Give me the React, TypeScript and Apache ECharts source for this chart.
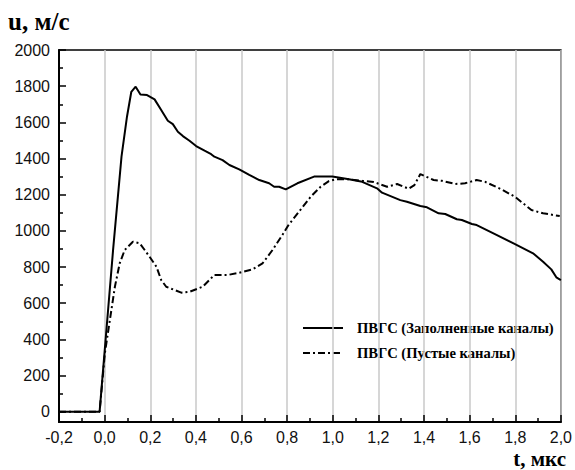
import React, { useEffect, useRef } from "react";
import * as echarts from "echarts";

const filledT = [-0.2, -0.022, 0.037, 0.074, 0.098, 0.117, 0.136, 0.157, 0.186, 0.219, 0.248, 0.277, 0.299, 0.321, 0.343, 0.372, 0.401, 0.438, 0.467, 0.481, 0.517, 0.547, 0.59, 0.634, 0.678, 0.721, 0.743, 0.765, 0.794, 0.845, 0.918, 0.998, 1.071, 1.129, 1.194, 1.216, 1.296, 1.325, 1.384, 1.413, 1.464, 1.493, 1.544, 1.566, 1.61, 1.631, 1.711, 1.799, 1.878, 1.922, 1.958, 1.98, 2.0];
const filledU = [0, 0, 893, 1410, 1631, 1769, 1797, 1754, 1751, 1727, 1668, 1609, 1590, 1548, 1524, 1498, 1469, 1443, 1424, 1410, 1391, 1364, 1340, 1309, 1281, 1263, 1244, 1244, 1229, 1263, 1300, 1300, 1285, 1271, 1235, 1211, 1170, 1161, 1137, 1130, 1097, 1093, 1064, 1060, 1038, 1032, 982, 927, 876, 829, 787, 743, 728];

const emptyT = [-0.2, -0.022, 0.001, 0.023, 0.045, 0.066, 0.088, 0.124, 0.154, 0.197, 0.227, 0.248, 0.27, 0.336, 0.372, 0.43, 0.481, 0.539, 0.59, 0.649, 0.692, 0.736, 0.779, 0.806, 0.852, 0.903, 0.947, 0.983, 1.013, 1.071, 1.129, 1.18, 1.238, 1.282, 1.333, 1.358, 1.384, 1.442, 1.478, 1.537, 1.58, 1.631, 1.668, 1.74, 1.799, 1.871, 1.922, 1.995];
const emptyU = [0, 0, 323, 507, 691, 820, 894, 940, 931, 857, 802, 728, 691, 658, 663, 691, 756, 756, 768, 787, 820, 894, 977, 1032, 1106, 1188, 1244, 1275, 1285, 1285, 1277, 1270, 1244, 1259, 1233, 1253, 1314, 1281, 1277, 1259, 1263, 1281, 1271, 1229, 1188, 1115, 1097, 1082];

const seriesNames = ["ПВГС (Заполненные каналы)", "ПВГС (Пустые каналы)"];
const yMajorTicks = [0, 200, 400, 600, 800, 1000, 1200, 1400, 1600, 1800, 2000];
const yMinorTicks = [100, 300, 500, 700, 900, 1100, 1300, 1500, 1700, 1900];
const yTitle = "u, м/с";
const xTitle = "t, мкс";

const DASH_DOT = [7, 3, 2, 3];

export default function App() {
  const ref = useRef<HTMLDivElement>(null);
  useEffect(() => {
    if (!ref.current) return;
    const chart = echarts.init(ref.current, undefined, { renderer: "svg" });
    const labelFont = { fontFamily: "Liberation Sans", fontSize: 16, color: "#111" };
    const yCommon = {
      type: "value" as const,
      min: -57,
      max: 2000,
      position: "left" as const,
      offset: 0,
      splitLine: { show: false },
    };
    const legendFont = "bold 14.6px 'Liberation Serif'";
    chart.setOption({
      animation: false,
      backgroundColor: "#fff",
      grid: {
        left: 59,
        right: 12,
        top: 50,
        bottom: 48,
        show: true,
        borderColor: "#000",
        borderWidth: 1.5,
        backgroundColor: "transparent",
      },
      xAxis: {
        type: "value",
        min: -0.2,
        max: 2.0,
        interval: 0.2,
        axisLine: { show: true, onZero: false, lineStyle: { color: "#000", width: 2 } },
        axisTick: { show: true, inside: true, length: 7, lineStyle: { color: "#000", width: 1.5 } },
        minorTick: { show: true, splitNumber: 2, length: 4, lineStyle: { color: "#000", width: 1.5 } },
        splitLine: { show: true, lineStyle: { color: "#c8c8c8", width: 1.5 } },
        axisLabel: {
          ...labelFont,
          margin: 7,
          formatter: (v: number) => (Math.abs(v) < 1e-9 ? 0 : v).toFixed(1).replace(".", ","),
        },
      },
      yAxis: [
        {
          ...yCommon,
          axisLine: { show: true, onZero: false, lineStyle: { color: "#000", width: 2 } },
          axisTick: { show: true, inside: true, length: 7, customValues: yMajorTicks, lineStyle: { color: "#000", width: 1.5 } },
          axisLabel: { ...labelFont, margin: 9, customValues: yMajorTicks, formatter: (v: number) => String(Math.round(v)) },
        },
        {
          ...yCommon,
          axisLine: { show: false, onZero: false },
          axisTick: { show: true, inside: true, length: 4, customValues: yMinorTicks, lineStyle: { color: "#000", width: 1.5 } },
          axisLabel: { show: false },
        },
      ],
      series: [
        {
          name: seriesNames[0],
          type: "line",
          showSymbol: false,
          symbol: "none",
          data: filledT.map((t, i) => [t, filledU[i]]),
          lineStyle: { color: "#000", width: 2 },
          itemStyle: { color: "#000" },
        },
        {
          name: seriesNames[1],
          type: "line",
          showSymbol: false,
          symbol: "none",
          data: emptyT.map((t, i) => [t, emptyU[i]]),
          lineStyle: { color: "#000", width: 2, type: DASH_DOT },
          itemStyle: { color: "#000" },
        },
      ],
      graphic: [
        {
          type: "text",
          left: 8,
          top: 9,
          style: { text: yTitle, font: "bold 25px 'Liberation Serif'", fill: "#000" },
        },
        {
          type: "text",
          right: 9,
          top: 448,
          style: { text: xTitle, font: "bold 21px 'Liberation Serif'", lineHeight: 18, fill: "#000" },
        },
        {
          type: "line",
          shape: { x1: 303, y1: 328, x2: 343, y2: 328 },
          style: { stroke: "#000", lineWidth: 2 },
        },
        {
          type: "text",
          x: 357,
          y: 328,
          style: { text: seriesNames[0], font: legendFont, fill: "#000", textVerticalAlign: "middle", verticalAlign: "middle" },
        },
        {
          type: "line",
          shape: { x1: 303, y1: 353, x2: 343, y2: 353 },
          style: { stroke: "#000", lineWidth: 2, lineDash: DASH_DOT },
        },
        {
          type: "text",
          x: 357,
          y: 353,
          style: { text: seriesNames[1], font: legendFont, fill: "#000", textVerticalAlign: "middle", verticalAlign: "middle" },
        },
      ],
    });
    return () => chart.dispose();
  }, []);
  return (
    <div
      ref={ref}
      style={{ position: "fixed", left: 0, top: 0, width: 575, height: 470, background: "#fff" }}
    />
  );
}
